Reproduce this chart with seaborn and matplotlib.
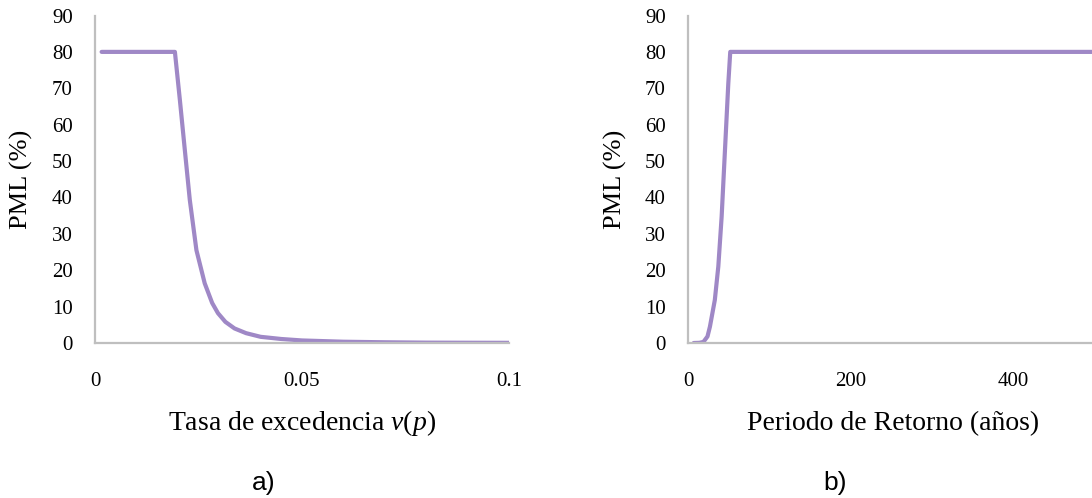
import numpy as np
import matplotlib
matplotlib.use("Agg")
import matplotlib.pyplot as plt
import seaborn as sns

# Data
tasa = [0.0016, 0.0193, 0.0205, 0.0217, 0.0229, 0.0245, 0.0265, 0.0283, 0.0297,
        0.0315, 0.0337, 0.0365, 0.040, 0.045, 0.050, 0.060, 0.070, 0.080, 0.090, 0.100]
pml_tasa = [80, 80, 66.8, 53, 39.3, 25.5, 16.4, 11, 8.2,
            5.8, 4.0, 2.7, 1.7, 1.1, 0.7, 0.35, 0.2, 0.1, 0.07, 0.05]

periodo = [7, 14, 19, 24, 27, 33, 37.3, 41.4, 45.5, 49.6, 52, 620]
pml_periodo = [0, 0.05, 0.3, 1.8, 4.5, 11.8, 21, 34.7, 53, 71.3, 80, 80]

y_ticks = [0, 10, 20, 30, 40, 50, 60, 70, 80, 90]
x_ticks_a = [0, 0.05, 0.1]
x_labels_a = ["0", "0.05", "0.1"]
x_ticks_b = [0, 200, 400]

line_color = "#9F88C6"
axis_color = "#BFBFBF"

sns.set_style("white")
plt.rcParams["font.family"] = ["Liberation Serif", "DejaVu Serif"]
plt.rcParams["text.color"] = "black"
plt.rcParams["axes.labelcolor"] = "black"
plt.rcParams["mathtext.fontset"] = "custom"
plt.rcParams["mathtext.rm"] = "Liberation Serif"
plt.rcParams["mathtext.it"] = "Liberation Serif:italic"

W, H = 1092, 498
fig = plt.figure(figsize=(W / 100, H / 100), dpi=100)

def px_axes(left, right, top, bottom):
    return fig.add_axes([left / W, 1 - bottom / H, (right - left) / W, (bottom - top) / H])

ax_a = px_axes(95, 509, 15.5, 343)
ax_b = px_axes(688, 1175.5, 15.5, 343)  # runs past the right edge, as in the cropped original

sns.lineplot(x=tasa, y=pml_tasa, ax=ax_a, color=line_color, linewidth=3,
             estimator=None, sort=False)
sns.lineplot(x=periodo, y=pml_periodo, ax=ax_b, color=line_color, linewidth=3,
             estimator=None, sort=False)

ax_a.set_xlim(0, 0.1)
ax_a.set_xticks(x_ticks_a)
ax_a.set_xticklabels(x_labels_a)
ax_b.set_xlim(0, 600)
ax_b.set_xticks(x_ticks_b)

for ax in (ax_a, ax_b):
    ax.set_ylim(0, 90)
    ax.set_yticks(y_ticks)
    for s in ("top", "right"):
        ax.spines[s].set_visible(False)
    for s in ("left", "bottom"):
        ax.spines[s].set_color(axis_color)
        ax.spines[s].set_linewidth(1.6)
    ax.tick_params(axis="both", length=0, labelsize=15, colors="black")
    ax.tick_params(axis="y", pad=16)
    ax.tick_params(axis="x", pad=21)
    ax.set_ylabel("PML (%)", fontsize=19)

ax_a.set_xlabel("Tasa de excedencia $\\mathit{v(p)}$", fontsize=20)
ax_b.set_xlabel("Periodo de Retorno (años)", fontsize=20)

ax_a.yaxis.set_label_coords((33 - 95) / 414, 0.5)
ax_b.yaxis.set_label_coords((627 - 688) / 487.5, 0.5)
ax_a.xaxis.set_label_coords(0.5, (343 - 408) / 327.5)
ax_b.xaxis.set_label_coords((893 - 688) / 487.5, (343 - 411) / 327.5)

fig.text(264 / W, 1 - 483 / H, "a)", ha="center", va="center", fontsize=19,
         family=["Liberation Sans Narrow", "Liberation Sans", "DejaVu Sans"])
fig.text(835 / W, 1 - 483 / H, "b)", ha="center", va="center", fontsize=19,
         family=["Liberation Sans Narrow", "Liberation Sans", "DejaVu Sans"])

fig.savefig("out.png", dpi=100)
